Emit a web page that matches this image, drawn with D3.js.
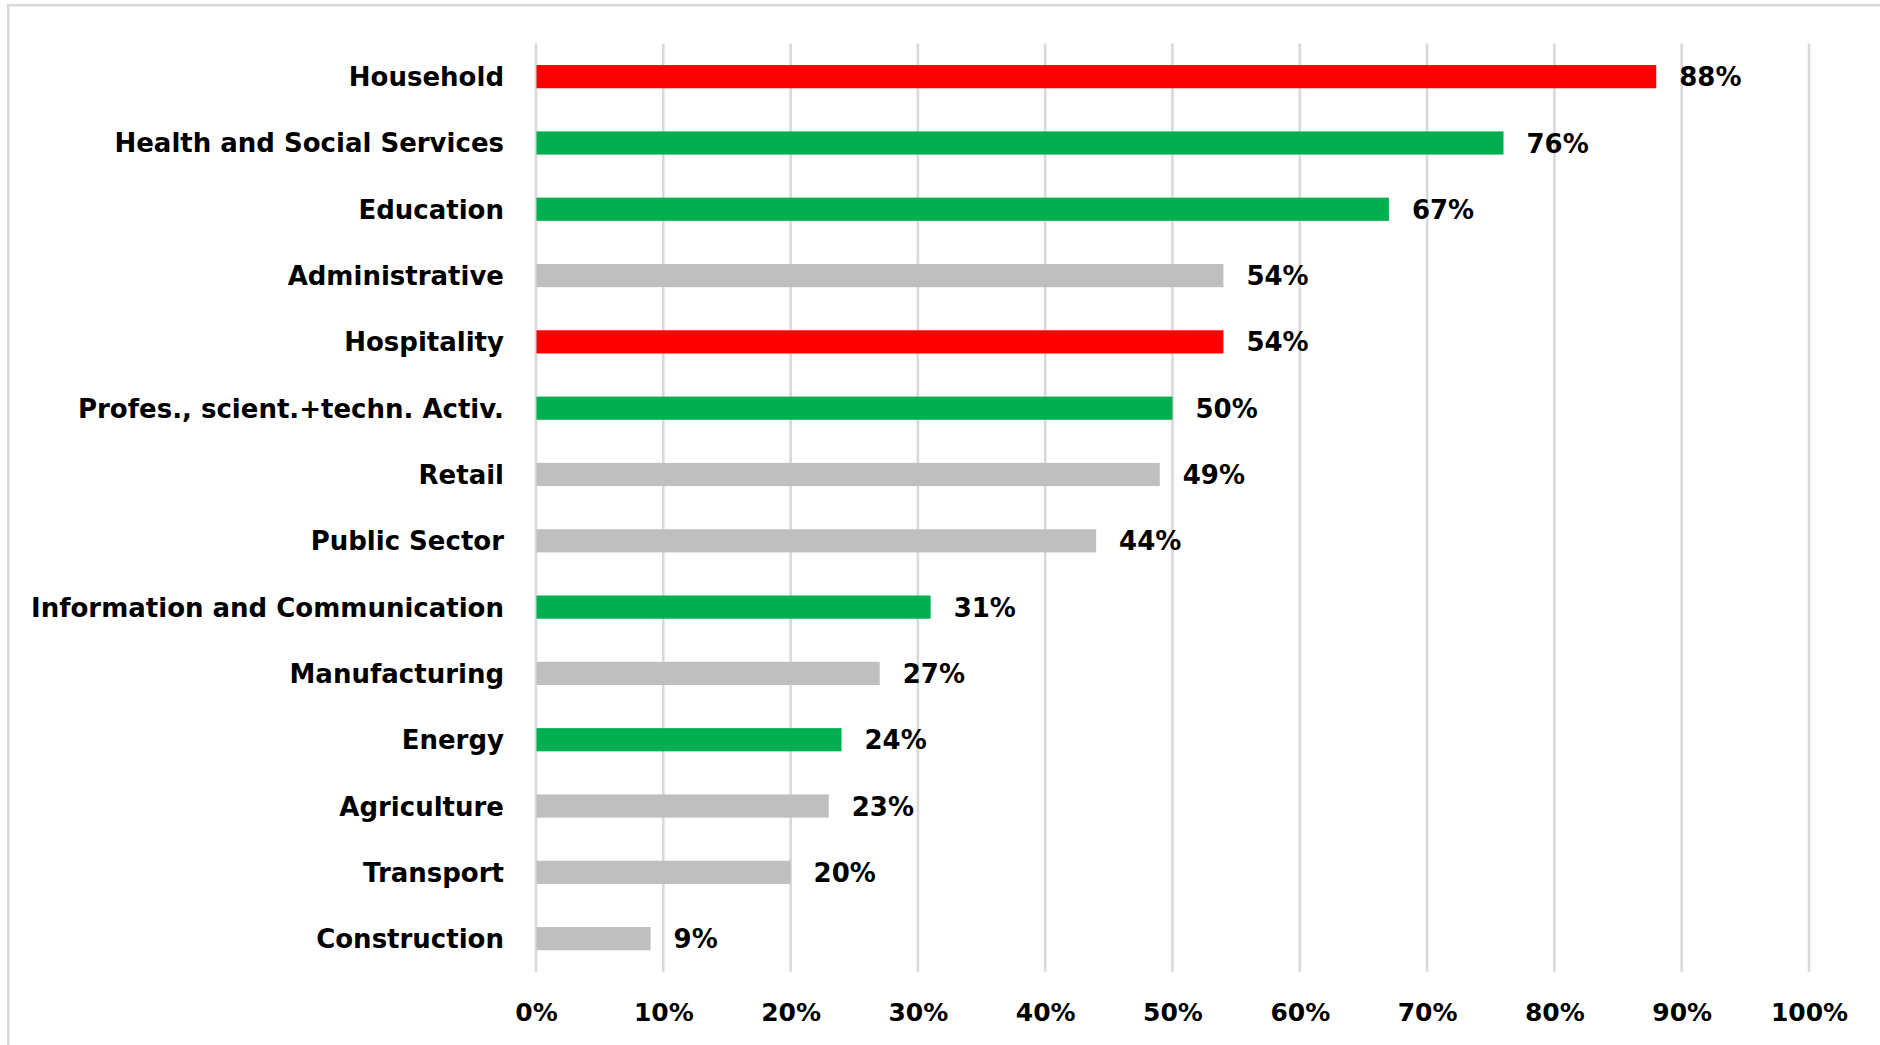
<!DOCTYPE html>
<html>
<head>
<meta charset="utf-8">
<script src="https://cdn.jsdelivr.net/npm/d3@7"></script>
<style>
  html, body { margin: 0; padding: 0; background: #fff; }
  svg { display: block; }
  text { font-family: "DejaVu Sans", Verdana, sans-serif; font-weight: bold; fill: #000; }
</style>
</head>
<body>
<svg id="chart" width="1880" height="1045"></svg>
<script>
// Share of workers per sector (percent), sorted top to bottom
const categories = [
  "Household",
  "Health and Social Services",
  "Education",
  "Administrative",
  "Hospitality",
  "Profes., scient.+techn. Activ.",
  "Retail",
  "Public Sector",
  "Information and Communication",
  "Manufacturing",
  "Energy",
  "Agriculture",
  "Transport",
  "Construction"
];
const values = [88, 76, 67, 54, 54, 50, 49, 44, 31, 27, 24, 23, 20, 9];
// colour group of each sector: "red", "green" or "grey"
const groups = ["red", "green", "green", "grey", "red", "green", "grey", "grey", "green", "grey", "green", "grey", "grey", "grey"];
const tickValues = [0, 10, 20, 30, 40, 50, 60, 70, 80, 90, 100];
const tickLabels = ["0%", "10%", "20%", "30%", "40%", "50%", "60%", "70%", "80%", "90%", "100%"];

const colour = { red: "#ff0000", green: "#00b050", grey: "#bfbfbf" };

const svg = d3.select("#chart");
const W = 1880, H = 1045;

const plot = { left: 536, right: 1809, top: 43.5, bottom: 971.8 };

const x = d3.scaleLinear().domain([0, 100]).range([plot.left, plot.right]);
const y = d3.scaleBand()
  .domain(categories)
  .range([plot.top, plot.bottom])
  .paddingInner(0.65)
  .paddingOuter(0.325);

// outer frame (top and left edges)
svg.append("line")
  .attr("x1", 8).attr("x2", W).attr("y1", 5.3).attr("y2", 5.3)
  .attr("stroke", "#d9d9d9").attr("stroke-width", 2.6);
svg.append("line")
  .attr("x1", 8.3).attr("x2", 8.3).attr("y1", 4).attr("y2", H)
  .attr("stroke", "#d9d9d9").attr("stroke-width", 2.6);

// vertical gridlines
svg.append("g").selectAll("line")
  .data(tickValues)
  .join("line")
  .attr("x1", d => x(d)).attr("x2", d => x(d))
  .attr("y1", plot.top).attr("y2", plot.bottom)
  .attr("stroke", "#d9d9d9").attr("stroke-width", 2.6);

// x-axis tick labels
const xAxis = d3.axisBottom(x)
  .tickValues(tickValues)
  .tickFormat((d, i) => tickLabels[i])
  .tickSize(0)
  .tickPadding(0);
const gx = svg.append("g")
  .attr("transform", `translate(0, 1002)`)
  .call(xAxis);
gx.select(".domain").remove();
gx.selectAll("text")
  .attr("dy", 0).attr("y", 19)
  .style("font-size", "25px")
  .style("font-family", "'DejaVu Sans', Verdana, sans-serif")
  .style("font-weight", "bold")
  .attr("fill", "#000");

// bars
const rows = categories.map((c, i) => ({ cat: c, val: values[i], grp: groups[i] }));
svg.append("g").selectAll("rect")
  .data(rows)
  .join("rect")
  .attr("x", x(0) + 0.5)
  .attr("y", d => y(d.cat))
  .attr("width", d => x(d.val) - x(0) - 0.5)
  .attr("height", y.bandwidth())
  .attr("fill", d => colour[d.grp]);

// category labels
svg.append("g").selectAll("text")
  .data(rows)
  .join("text")
  .attr("x", 504)
  .attr("y", d => y(d.cat) + y.bandwidth() / 2 + 9.5)
  .attr("text-anchor", "end")
  .style("font-size", "26px")
  .text(d => d.cat);

// value labels
svg.append("g").selectAll("text")
  .data(rows)
  .join("text")
  .attr("x", d => x(d.val) + 23)
  .attr("y", d => y(d.cat) + y.bandwidth() / 2 + 9.6)
  .style("font-size", "26px")
  .text(d => d.val + "%");
</script>
</body>
</html>
